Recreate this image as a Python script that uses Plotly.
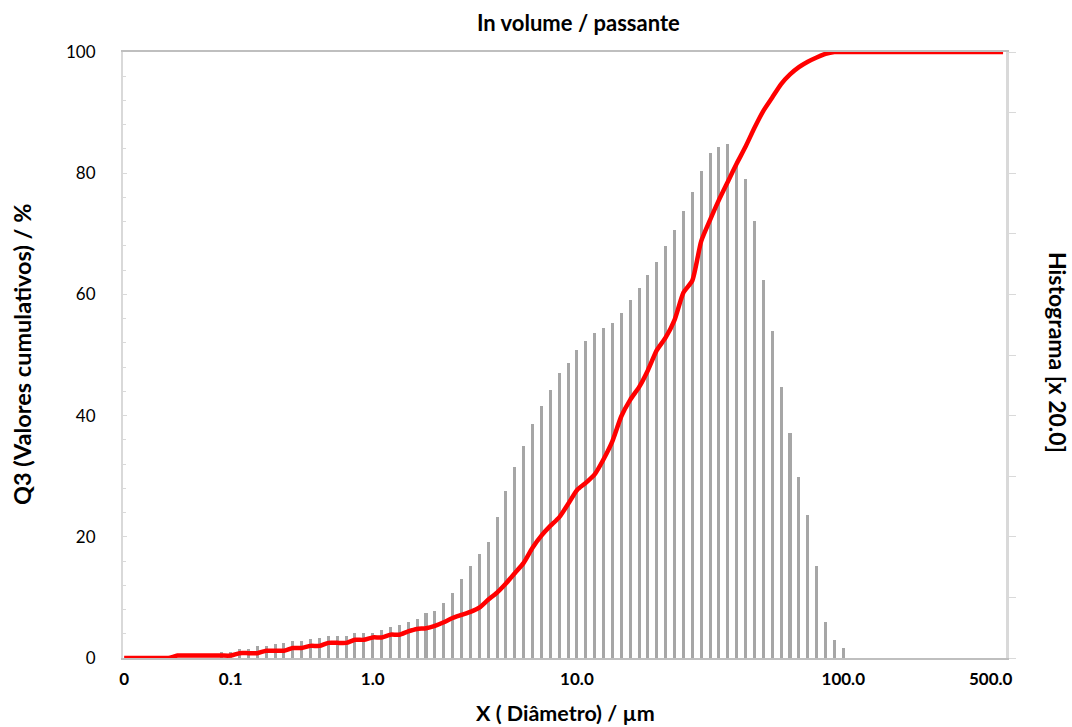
import plotly.graph_objects as go

# ---- data (category index along the size axis) ----
cum_index = list(range(0, 100))
cum_values = [
    0, 0, 0, 0, 0, 0, 0.4, 0.4, 0.4, 0.4,
    0.4, 0.4, 0.4, 0.8, 0.8, 0.8, 1.2, 1.2, 1.2, 1.65,
    1.65, 2.0, 2.0, 2.5, 2.5, 2.5, 3.0, 3.0, 3.4, 3.4,
    3.85, 3.85, 4.4, 4.8, 4.9, 5.3, 5.9, 6.6, 7.1, 7.6,
    8.3, 9.6, 10.8, 12.3, 14.0, 15.7, 18.2, 20.2, 21.8, 23.2,
    25.4, 27.7, 28.9, 30.3, 32.8, 35.8, 39.9, 42.6, 44.7, 47.5,
    50.8, 52.9, 55.8, 60.3, 62.3, 68.8, 72.3, 75.6, 78.6, 81.6,
    84.4, 87.5, 90.3, 92.5, 94.7, 96.3, 97.5, 98.4, 99.1, 99.7,
    100, 100, 100, 100, 100, 100, 100, 100, 100, 100,
    100, 100, 100, 100, 100, 100, 100, 100, 100, 100,
]

hist_index = list(range(11, 82))
hist_values = [
    1.0, 1.0, 1.5, 1.5, 1.9, 2.0, 2.3, 2.4, 2.8, 2.8,
    3.2, 3.3, 3.7, 3.7, 3.7, 4.2, 4.2, 4.2, 4.7, 5.1,
    5.5, 6.0, 6.4, 7.4, 7.8, 9.1, 10.8, 13.0, 15.2, 17.1,
    19.2, 23.2, 27.6, 31.6, 35.0, 38.6, 41.6, 44.3, 47.0, 48.7,
    50.9, 52.3, 53.6, 54.4, 55.3, 57.0, 59.0, 61.0, 63.2, 65.4,
    68.0, 70.7, 73.8, 76.9, 80.4, 83.4, 84.3, 84.8, 81.5, 79.0,
    72.1, 62.4, 54.0, 44.7, 37.2, 29.8, 23.6, 15.2, 6.0, 2.9,
    1.6,
]

x_tick_index = [0, 12, 28, 51, 81, 97.6]
x_tick_labels = ["0", "0.1", "1.0", "10.0", "100.0", "500.0"]

FONT = "Lato, 'Open Sans', sans-serif"
GRAY_LINE = "#D9D9D9"

fig = go.Figure()

# histogram on the left (primary) axis so the cumulative line sits above it
fig.add_trace(go.Bar(
    x=hist_index, y=hist_values, yaxis="y",
    marker=dict(color="#A6A6A6", line=dict(width=0)),
    width=0.34, showlegend=False, hoverinfo="skip",
))

fig.add_trace(go.Scatter(
    x=cum_index, y=cum_values, mode="lines", yaxis="y2",
    line=dict(color="#FF0000", width=4.5, shape="spline", smoothing=0.6),
    showlegend=False, cliponaxis=False,
))

fig.update_layout(
    width=1072, height=727,
    margin=dict(l=123, r=66, t=52, b=69),
    paper_bgcolor="white", plot_bgcolor="white",
    font=dict(family=FONT, color="black"),
    bargap=0,
    xaxis=dict(
        range=[-0.13, 99.33],
        tickmode="array", tickvals=x_tick_index, ticktext=x_tick_labels,
        tickfont=dict(family=FONT, size=17, color="black", weight="bold"),
        showgrid=False, zeroline=False,
        showline=True, linecolor="#BFBFBF", linewidth=2, mirror=True,
        ticks="", ticklabelstandoff=5,
    ),
    yaxis=dict(
        range=[0, 100], tickmode="linear", tick0=0, dtick=20,
        tickfont=dict(family=FONT, size=17, color="black"),
        showgrid=False, zeroline=False,
        showline=True, linecolor=GRAY_LINE, linewidth=2,
        ticks="inside", ticklen=4, tickcolor=GRAY_LINE, tickwidth=1,
        minor=dict(dtick=4, ticks="inside", ticklen=3, tickcolor=GRAY_LINE, showgrid=False),
        ticklabelstandoff=22,
    ),
    yaxis2=dict(
        range=[0, 100], overlaying="y", side="right",
        tickmode="linear", tick0=0, dtick=10,
        showticklabels=False, showgrid=False, zeroline=False,
        showline=True, linecolor=GRAY_LINE, linewidth=3,
        ticks="outside", ticklen=7, tickcolor=GRAY_LINE, tickwidth=1,
    ),
    annotations=[
        dict(text="<b>In volume / passante</b>", xref="paper", yref="paper",
             x=0.516, y=1, yshift=30, xanchor="center", yanchor="middle",
             showarrow=False, font=dict(family=FONT, size=22, color="black")),
        dict(text="<b>X ( Diâmetro) / µm</b>", xref="paper", yref="paper",
             x=0.5006, y=0, yshift=-55, xanchor="center", yanchor="middle",
             showarrow=False, font=dict(family=FONT, size=21.5, color="black")),
        dict(text="<b>Q3 (Valores cumulativos) / %</b>", xref="paper", yref="paper",
             x=0, y=0.5, xshift=-101, xanchor="center", yanchor="middle", textangle=-90,
             showarrow=False, font=dict(family=FONT, size=23.5, color="black")),
        dict(text="<b>Histograma [x 20.0]</b>", xref="paper", yref="paper",
             x=1, y=0.505, xshift=52, xanchor="center", yanchor="middle", textangle=90,
             showarrow=False, font=dict(family=FONT, size=23, color="black")),
    ],
)

fig.write_html("out.html")
